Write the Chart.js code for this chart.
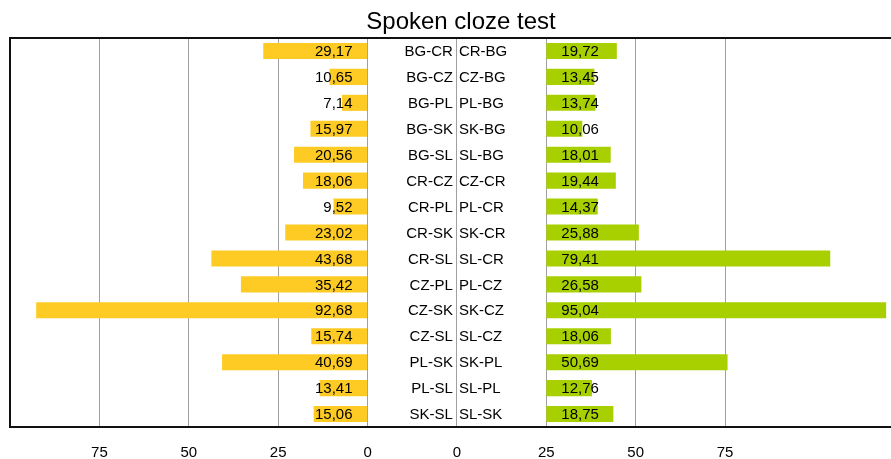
<!DOCTYPE html>
<html>
<head>
<meta charset="utf-8">
<script src="https://cdn.jsdelivr.net/npm/chart.js@4/dist/chart.umd.min.js"></script>
<style>
  body { margin: 0; background: #fff; }
  #wrap { width: 891px; height: 459px; position: relative; }
</style>
</head>
<body>
<div id="wrap"><canvas id="myButterflyChart"></canvas></div>
<script>
"use strict";

// pairs shown on the left (yellow) and right (green)
const leftPairs = ['BG-CR', 'BG-CZ', 'BG-PL', 'BG-SK', 'BG-SL', 'CR-CZ', 'CR-PL', 'CR-SK',
  'CR-SL', 'CZ-PL', 'CZ-SK', 'CZ-SL', 'PL-SK', 'PL-SL', 'SK-SL'];
const rightPairs = ['CR-BG', 'CZ-BG', 'PL-BG', 'SK-BG', 'SL-BG', 'CZ-CR', 'PL-CR', 'SK-CR',
  'SL-CR', 'PL-CZ', 'SK-CZ', 'SL-CZ', 'SK-PL', 'SL-PL', 'SL-SK'];
const leftValues = [29.17, 10.65, 7.14, 15.97, 20.56, 18.06, 9.52, 23.02, 43.68, 35.42, 92.68, 15.74, 40.69, 13.41, 15.06];
const rightValues = [19.72, 13.45, 13.74, 10.06, 18.01, 19.44, 14.37, 25.88, 79.41, 26.58, 95.04, 18.06, 50.69, 12.76, 18.75];

// one shared axis: left side runs 0..-100, right side starts at 50
const tickValues = [-75, -50, -25, 0, 25, 50, 75, 100];
const tickLabels = ['75', '50', '25', '0', '0', '25', '50', '75'];
const RIGHT_START = 50;
const LABEL_GAP = 25;

const FONT = '"Liberation Sans", Arial, sans-serif';

function fmt(v) {
  return v.toFixed(2).replace('.', ',');
}

const labelsPlugin = {
  id: 'labelsPlugin',
  afterDraw(chart) {
    const ctx = chart.ctx;
    const x = chart.scales.x;
    const y = chart.scales.y;
    const area = chart.chartArea;
    ctx.save();

    // frame
    ctx.strokeStyle = '#111';
    ctx.lineWidth = 2;
    ctx.beginPath();
    ctx.moveTo(chart.width, area.top);
    ctx.lineTo(area.left, area.top);
    ctx.lineTo(area.left, area.bottom);
    ctx.lineTo(chart.width, area.bottom);
    ctx.stroke();

    ctx.fillStyle = '#000';
    ctx.font = '15px ' + FONT;
    ctx.textBaseline = 'middle';
    const zero = x.getPixelForValue(0);
    const mid = x.getPixelForValue(LABEL_GAP);
    const rStart = x.getPixelForValue(RIGHT_START);
    for (let i = 0; i < leftPairs.length; i++) {
      const py = y.getPixelForValue(i) + 1;
      ctx.textAlign = 'right';
      ctx.fillText(fmt(leftValues[i]), zero - 15, py);
      ctx.fillText(leftPairs[i], mid - 4, py);
      ctx.textAlign = 'left';
      ctx.fillText(rightPairs[i], mid + 2, py);
      ctx.fillText(fmt(rightValues[i]), rStart + 15, py);
    }

    // title
    ctx.font = '24px ' + FONT;
    ctx.textAlign = 'center';
    ctx.fillText('Spoken cloze test', 461, 22);
    ctx.restore();
  }
};

const ctx = document.getElementById('myButterflyChart').getContext('2d');
let myButterflyChart = new Chart(ctx, {
  type: 'bar',
  data: {
    labels: leftPairs,
    datasets: [{
      data: leftValues.map(v => [-v, 0]),
      backgroundColor: '#fecb24',
      grouped: false,
      barPercentage: 0.62,
      categoryPercentage: 1
    }, {
      data: rightValues.map(v => [RIGHT_START, RIGHT_START + v]),
      backgroundColor: '#a8d000',
      grouped: false,
      barPercentage: 0.62,
      categoryPercentage: 1
    }]
  },
  options: {
    indexAxis: 'y',
    responsive: true,
    maintainAspectRatio: false,
    animation: false,
    layout: { padding: { left: 10, right: 0, top: 38, bottom: 0 } },
    plugins: {
      legend: { display: false },
      tooltip: { enabled: false },
      title: { display: false }
    },
    scales: {
      x: {
        type: 'linear',
        min: -100,
        max: 146.4,
        afterBuildTicks(scale) {
          scale.ticks = tickValues.map(v => ({ value: v }));
        },
        afterFit(scale) {
          scale.height = 32;
        },
        ticks: {
          padding: 17,
          color: '#000',
          font: { size: 15, family: FONT },
          maxRotation: 0,
          callback: (val, idx) => tickLabels[idx]
        },
        grid: { color: '#a0a0a0', lineWidth: 1, drawTicks: false },
        border: { display: false }
      },
      y: {
        display: false,
        grid: { display: false }
      }
    }
  },
  plugins: [labelsPlugin]
});
</script>
</body>
</html>
